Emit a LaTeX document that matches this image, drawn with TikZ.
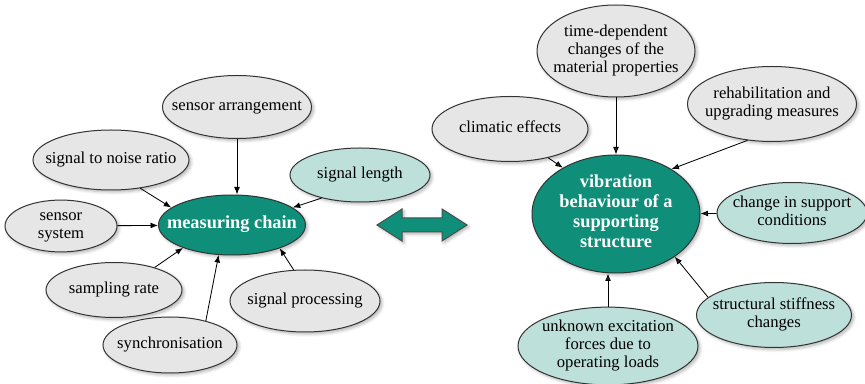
\documentclass[tikz,border=0pt]{standalone}
\usepackage{fontspec}
\setmainfont{Liberation Serif}
\usetikzlibrary{shapes.geometric,arrows.meta,shadows.blur}
\definecolor{chaindark}{HTML}{0F8F7A}
\definecolor{chainlight}{HTML}{BDE1DA}
\definecolor{chaingrey}{HTML}{E6E6E6}
% text that does not widen the ellipse around it
\newcommand{\lines}[1]{\makebox[0pt]{\begin{tabular}{@{}c@{}}#1\end{tabular}}}

\begin{document}
\begin{tikzpicture}[x=0.6pt,y=-0.6pt,
    bubble/.style 2 args={ellipse, draw=black!80, line width=0.6pt, inner sep=0pt,
        minimum width=#1*0.6pt, minimum height=#2*0.6pt,
        font=\fontsize{10}{11}\selectfont,
        blur shadow={shadow xshift=1.2pt, shadow yshift=-1.2pt,
            shadow blur steps=6, shadow opacity=30}},
    influence/.style={fill=chaingrey},
    feature/.style={fill=chainlight},
    core/.style={fill=chaindark, text=white, font=\bfseries\fontsize{11}{12}\selectfont},
    link/.style={-{Latex[length=4.5pt,width=3.5pt]}, line width=0.5pt},
  ]
    \useasboundingbox (0,0) rectangle (865,384);

    % measuring chain and what it depends on
    \node[bubble={147}{60}, core] (mc) at (232,225) {\lines{measuring chain}};
    \node[bubble={149}{63}, influence] (arr) at (237,107) {\lines{sensor arrangement}};
    \node[bubble={156}{60}, influence] (snr) at (111,160) {\lines{signal to noise ratio}};
    \node[bubble={112}{45}, influence] (sys) at (61,226) {\lines{sensor\\system}};
    \node[bubble={136}{55}, influence] (rate) at (114,290) {\lines{sampling rate}};
    \node[bubble={134}{56}, influence] (sync) at (170,345) {\lines{synchronisation}};
    \node[bubble={150}{62}, influence] (proc) at (305,301) {\lines{signal processing}};
    \node[bubble={140}{54}, feature] (len) at (360,175) {\lines{signal length}};

    \draw[link] (arr.south) -- (arr.south |- mc.north);
    \draw[link] (snr.-44) -- (mc.164);
    \draw[link] (sys) -- (mc);
    \draw[link] (rate.29) -- (mc.205);
    \draw[link] (sync.34) -- (mc.246);
    \draw[link] (proc.110) -- (mc.-26);
    \draw[link] (len.211) -- (mc.16);

    % two-way arrow between both groups
    \filldraw[fill=chaindark, draw=black!70, line width=0.6pt,
        blur shadow={shadow xshift=1.2pt, shadow yshift=-1.2pt, shadow opacity=30}]
        (377,225) -- (402,209) -- (402,218) -- (442,218) -- (442,209) -- (467,225)
        -- (442,241) -- (442,232) -- (402,232) -- (402,241) -- cycle;

    % vibration behaviour and its influences
    \node[bubble={168}{118}, core] (vib) at (616,214)
        {\lines{vibration\\behaviour of a\\supporting\\structure}};
    \node[bubble={158}{92}, influence] (time) at (616,51)
        {\lines{time-dependent\\changes of the\\material properties}};
    \node[bubble={169}{75}, influence] (rehab) at (772,104)
        {\lines{rehabilitation and\\upgrading measures}};
    \node[bubble={156}{65}, influence] (clim) at (510,129) {\lines{climatic effects}};
    \node[bubble={150}{61}, feature] (supp) at (792,213)
        {\lines{change in support\\conditions}};
    \node[bubble={155}{65}, feature] (stiff) at (774,315)
        {\lines{structural stiffness\\changes}};
    \node[bubble={180}{77}, feature] (load) at (608,346)
        {\lines{unknown excitation\\forces due to\\operating loads}};

    \draw[link] (clim.-37) -- (vib.139);
    \draw[link] (time) -- (vib);
    \draw[link] (rehab.236) -- (vib.39);
    \draw[link] (supp) -- (vib);
    \draw[link] (stiff.165) -- (vib.-36);
    \draw[link] (load.north) -- (load.north |- vib.south);

\end{tikzpicture}
\end{document}
